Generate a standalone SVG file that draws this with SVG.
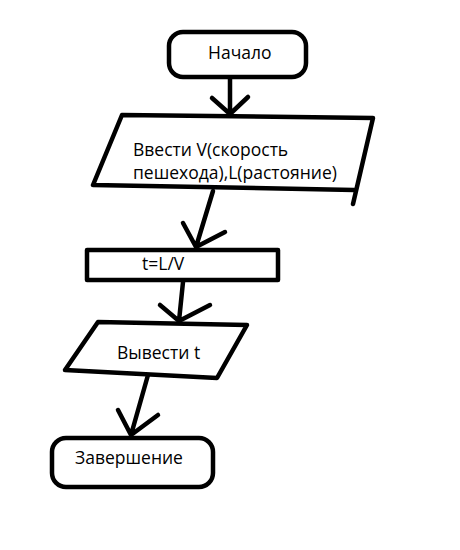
<svg xmlns="http://www.w3.org/2000/svg" width="460" height="550" viewBox="0 0 460 550">
<style>
.s{fill:#fff;stroke:#000;stroke-width:4.5;stroke-linejoin:round;stroke-linecap:round}
.f{fill:#fff;stroke:none}
.c{fill:none;stroke:#000;stroke-width:4.5;stroke-linecap:round;stroke-linejoin:round}
text{font-family:"Open Sans","Noto Sans",sans-serif;font-size:17.5px;fill:#000}
</style>
<rect width="460" height="550" fill="#fff"/>
<g id="connectors">
<path class="c" d="M230,77 L230,114 M212,98 L230,114 L248,97"/>
<path class="c" d="M213,191 L196,247 M183,223 L196,247 L225,232"/>
<path class="c" d="M183,282 L179,321 M160,305 L179,321 L210,305"/>
<path class="c" d="M148,375 L131,435 M118,410 L131,435 L158,415"/>
</g>
<g id="start">
<rect class="s" x="169" y="32" width="137" height="45" rx="14"/>
<text x="208" y="59">Начало</text>
</g>
<g id="input">
<path class="f" d="M122,115 L373,118 L354,190 L93,185 Z"/>
<path class="c" d="M93,185 L122,115 L373,118 L353,204 M93,185 L354,190"/>
<text x="133" y="156">Ввести V(скорость</text>
<text x="133" y="179">пешехода),L(растояние)</text>
</g>
<g id="calc">
<rect class="s" x="87" y="250" width="191" height="30"/>
<text x="142" y="270">t=L/V</text>
</g>
<g id="output">
<path class="s" d="M98,322 L247,325 L217,378 L65,370 Z"/>
<text x="117" y="359">Вывести t</text>
</g>
<g id="end">
<rect class="s" x="52" y="438" width="161" height="49" rx="14"/>
<text x="75" y="464">Завершение</text>
</g>
</svg>
